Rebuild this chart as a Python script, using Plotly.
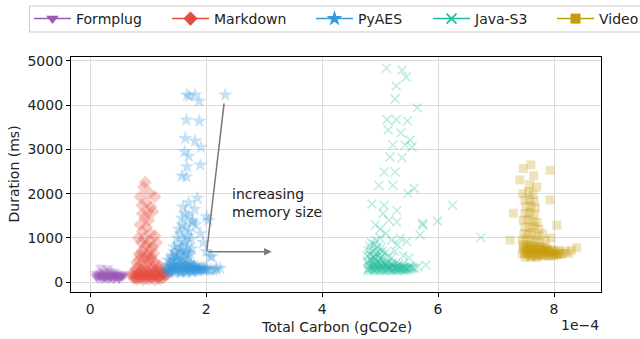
import plotly.graph_objects as go

# x values in units of 1e-4 gCO2e, y in ms
formplug_x = [0.12,0.18,0.25,0.32,0.4,0.47,0.53,0.15,0.22,0.3,0.38,0.45,0.52,0.58,0.1,0.2,0.28,0.35,0.43,0.5,0.56,
              0.14,0.24,0.33,0.41,0.49,0.17,0.27,0.36,0.46,0.54,0.2,0.3,0.4,0.5,0.25,0.35,0.45,0.22,0.32,0.42,0.18,0.3,
              0.1,0.16,0.26,0.34,0.44,0.52,0.6,
              0.13,0.21,0.29,0.37,0.45,0.53,0.11,0.19,0.27,0.35,0.43,0.51,0.16,0.24,0.32,0.4,0.48,0.56,0.23,0.39]
formplug_y = [120,130,110,150,140,125,135,180,170,190,160,175,165,150,200,210,100,90,95,85,110,
              70,80,75,70,80,230,220,240,210,200,60,65,60,70,150,130,120,260,280,250,340,330,
              140,150,160,140,150,130,190,
              160,150,140,160,150,140,110,120,100,110,120,100,180,170,190,180,170,160,90,200]

markdown_x = [0.75,0.8,0.85,0.9,0.95,1.0,1.05,1.1,1.15,1.2,1.25,1.3,
              0.78,0.83,0.88,0.93,0.98,1.03,1.08,1.13,1.18,1.23,1.28,
              0.76,0.81,0.86,0.91,0.96,1.01,1.06,1.11,1.16,1.21,1.26,
              0.8,0.85,0.9,0.95,1.0,1.05,1.1,1.15,1.2,0.72,0.74,1.33,1.36,
              0.77,0.82,0.87,0.92,0.97,1.02,1.07,1.12,1.17,1.22,1.27,
              0.79,0.84,0.89,0.94,0.99,1.04,1.09,1.14,1.19,0.86,0.96,1.06,
              0.85,0.9,0.95,1.0,1.05,1.1,0.88,0.93,0.98,1.03,1.08,0.9,0.97,1.04,0.86,0.94,1.01,1.12,0.83,1.15,
              0.86,0.89,1.12,0.95,1.03,1.0,0.92,1.05,0.97,0.9,1.08]
markdown_y = [150,100,200,120,250,180,140,220,160,120,200,150,
              300,350,280,320,380,300,350,280,300,260,240,
              80,70,90,60,80,70,90,60,80,70,100,
              450,500,420,550,480,520,450,400,380,200,120,180,250,
              220,180,240,200,160,220,200,180,240,200,180,
              130,150,140,160,130,150,140,160,130,600,620,580,
              650,700,800,600,750,650,900,1000,850,950,800,1150,1250,1100,1300,1450,1400,1050,1000,900,
              1930,1740,1930,2260,2010,1590,2150,1700,1800,1550,1600]

pyaes_x = [1.32,1.37,1.42,1.47,1.52,1.57,1.62,1.67,1.72,1.77,1.82,1.87,1.92,1.97,2.02,2.07,2.12,2.17,
           1.35,1.4,1.45,1.5,1.55,1.6,1.65,1.7,1.75,1.8,1.85,1.9,1.95,2.0,
           1.34,1.39,1.44,1.49,1.54,1.59,1.64,1.69,1.74,1.79,1.36,1.46,1.56,1.66,1.76,1.86,
           1.33,1.38,1.43,1.48,1.53,1.58,1.63,1.68,1.73,1.78,1.83,1.88,1.93,1.98,
           1.31,1.36,1.41,1.46,1.51,1.56,1.61,1.66,1.71,1.76,1.81,1.4,1.5,1.6,1.7,1.45,1.55,1.65,
           1.42,1.48,1.54,1.6,1.66,1.72,1.45,1.51,1.57,1.63,1.69,1.75,1.5,1.56,1.62,1.68,1.74,
           1.53,1.59,1.65,1.71,1.77,1.58,1.64,1.7,1.76,1.82,1.6,1.7,1.8,1.85,1.9,1.95,2.0,
           1.58,1.66,1.67,1.9,1.64,1.81,1.91,1.66,1.88,1.67,1.81,1.88,1.71,2.33,1.7,1.63,
           2.01,2.1,2.18,2.04,2.07,2.24]
pyaes_y = [300,280,320,290,310,280,300,290,310,280,300,290,280,270,290,280,270,290,
           400,380,420,390,410,380,400,390,360,350,330,320,330,320,
           500,480,520,490,510,480,460,440,420,380,220,230,220,230,240,250,
           350,340,360,330,350,340,330,350,320,330,310,300,310,300,
           250,260,250,270,260,250,240,260,270,250,260,560,580,540,600,700,720,680,
           600,650,620,700,640,660,800,850,780,900,820,760,1000,1100,950,1050,980,
           1200,1300,1250,1150,1350,1450,1550,1500,1400,1300,1700,1800,1650,1900,1100,900,700,
           2400,2380,2610,2650,3250,3190,3050,3660,3640,4230,4230,4090,4200,4230,2850,2950,
           1480,580,320,1400,580,320]

javas3_x = [4.8,4.85,4.9,4.95,5.0,5.05,5.1,5.15,5.2,5.25,5.3,5.35,5.4,5.45,5.5,5.55,5.6,
            4.82,4.87,4.92,4.97,5.02,5.07,5.12,5.17,5.22,5.27,5.32,5.37,5.42,5.47,5.52,
            4.78,4.84,4.9,4.96,5.02,5.08,5.14,5.2,5.26,5.32,
            4.81,4.86,4.91,4.96,5.01,5.06,5.11,5.16,5.21,5.26,5.31,5.36,5.41,5.46,5.51,5.56,
            4.79,4.84,4.89,4.94,4.99,5.04,5.09,5.14,5.19,5.24,5.29,5.34,5.39,5.44,
            4.8,4.88,4.95,5.02,5.1,4.84,4.91,4.99,
            4.78,4.83,4.88,4.93,4.98,5.03,4.8,4.86,4.92,4.98,5.04,4.82,4.9,4.96,5.02,4.85,4.93,5.0,5.08,5.14,5.2,
            5.0,5.1,5.15,5.05,4.92,5.2,5.3,5.25,5.4,5.5,5.35,5.65,5.79,
            5.11,5.38,5.45,5.28,5.26,5.64,5.12,5.28,5.47,5.14,5.36,5.52,5.22,5.43,5.55,5.17,5.38,5.07,5.26,4.98,5.22,
            5.48,5.59,4.86,5.07,5.29,5.29,5.74,5.99,6.25,6.74,5.73,5.69,5.46]
javas3_y = [300,320,290,310,300,320,290,310,300,320,290,310,300,300,290,310,320,
            380,400,370,390,380,400,370,360,380,350,360,370,350,340,360,
            480,500,520,470,490,450,460,430,420,410,
            340,330,350,340,330,350,340,330,340,320,330,320,330,310,320,330,
            270,260,270,280,260,270,260,280,270,260,270,280,270,260,
            430,450,440,420,400,520,560,540,
            600,620,580,640,600,560,720,700,750,680,700,820,850,800,780,900,950,1000,650,600,550,
            1200,1100,1400,1550,1300,950,850,700,600,550,1000,350,390,
            4830,4790,4630,4430,4140,3940,3670,3670,3640,3440,3370,3210,3100,3100,3050,2830,2810,2490,2490,2190,2190,
            2010,2120,1770,1740,1620,1360,1290,1380,1740,1010,1330,1070,920]

video_x = [7.45,7.5,7.55,7.6,7.65,7.7,7.75,7.8,7.85,7.9,7.95,8.0,8.05,8.1,8.15,
           7.48,7.53,7.58,7.63,7.68,7.73,7.78,7.83,7.88,7.93,7.98,8.03,8.08,
           7.47,7.52,7.57,7.62,7.67,7.72,7.77,7.82,7.87,8.2,8.3,8.39,8.25,
           7.5,7.56,7.62,7.68,7.74,7.8,7.86,7.92,7.98,8.04,8.1,
           7.47,7.54,7.61,7.68,7.75,7.82,7.89,7.96,7.5,7.6,7.7,
           7.45,7.52,7.6,7.68,7.76,7.48,7.55,7.63,7.71,7.5,7.58,7.66,7.74,7.47,7.55,7.63,7.71,
           7.5,7.58,7.66,7.52,7.6,7.68,7.5,7.58,7.66,7.46,7.56,7.64,
           7.41,7.58,7.7,7.47,7.6,7.93,7.24,7.3,8.05,7.93,7.65,7.8,7.85,7.95]
video_y = [650,640,620,600,610,600,620,600,610,590,600,610,620,630,650,
           750,730,740,720,730,710,720,700,710,700,690,700,720,
           850,830,840,820,800,810,790,780,770,700,720,780,650,
           680,670,660,650,660,650,640,660,650,640,660,
           780,770,760,760,750,740,730,740,560,570,560,
           950,980,930,960,900,1100,1080,1120,1050,1250,1230,1270,1200,1400,1420,1380,1350,
           1550,1580,1520,1700,1720,1680,1850,1870,1830,2000,2050,1980,
           2310,2200,2150,2570,2650,2530,955,1560,1290,1860,2400,1100,950,1000]

y_ticks = [0, 1000, 2000, 3000, 4000, 5000]
x_ticks = [0, 2, 4, 6, 8]

names = ["Formplug", "Markdown", "PyAES", "Java-S3", "Video"]
colors = ["#9b59b6", "#e74c3c", "#3498db", "#1abc9c", "#c49b0a"]
symbols = ["triangle-down", "diamond", "star", "x-thin-open", "square"]
xs = [formplug_x, markdown_x, pyaes_x, javas3_x, video_x]
ys = [formplug_y, markdown_y, pyaes_y, javas3_y, video_y]
sizes = [10, 10, 11, 9, 9]

W, H = 640, 339
L, R, T, B = 71, 39, 57, 47
pw, ph = W - L - R, H - T - B
def px(xp):
    return (xp - L) / pw
def py(yp):
    return (H - B - yp) / ph

def marker(s, c, sz, op):
    mk = dict(symbol=s, color=c, size=sz, opacity=op)
    mk["line"] = dict(color=c, width=1.6) if s.startswith("x-thin") else dict(width=0)
    return mk

fig = go.Figure()
for n, c, s, x, y, sz in zip(names, colors, symbols, xs, ys, sizes):
    fig.add_trace(go.Scatter(x=x, y=y, mode="markers", marker=marker(s, c, sz, 0.28),
                             showlegend=False, name=n, hoverinfo="skip"))

legend_left = [29, 167, 311, 428, 552]
for i, (n, c, s, sz) in enumerate(zip(names, colors, symbols, sizes)):
    lg = "legend" if i == 0 else f"legend{i+1}"
    fig.add_trace(go.Scatter(x=[None], y=[None], mode="lines+markers", name=n, legend=lg,
                             line=dict(color=c, width=1.5), marker=marker(s, c, sz + 1, 1)))
    fig.update_layout({lg: dict(x=px(legend_left[i]), xanchor="left", y=py(19), yanchor="middle",
                                bgcolor="rgba(0,0,0,0)", borderwidth=0, itemwidth=37,
                                font=dict(size=14, color="#222"))})

# legend frame
fig.add_shape(type="rect", xref="paper", yref="paper", x0=px(29.5), x1=px(660), y0=py(32), y1=py(6),
              line=dict(color="#cccccc", width=1), fillcolor="rgba(0,0,0,0)", layer="below")

# arrow annotation
fig.add_shape(type="line", x0=2.31, y0=4040, x1=2.01, y1=690, line=dict(color="#777777", width=1.5))
fig.add_annotation(x=3.13, y=690, ax=2.01, ay=690, xref="x", yref="y", axref="x", ayref="y",
                   showarrow=True, arrowhead=2, arrowsize=1, arrowwidth=1.5, arrowcolor="#777777", text="")
fig.add_annotation(x=2.41, y=1790, xref="x", yref="y", text="increasing<br>memory size", showarrow=False,
                   xanchor="left", yanchor="middle", align="left", font=dict(size=14, color="#222"))

# axis titles and offset label
fig.add_annotation(x=0.5, y=py(327), xref="paper", yref="paper", text="Total Carbon (gCO2e)", showarrow=False,
                   xanchor="center", yanchor="middle", font=dict(size=14, color="#222"))
fig.add_annotation(x=px(13), y=0.5, xref="paper", yref="paper", text="Duration (ms)", showarrow=False,
                   textangle=-90, xanchor="center", yanchor="middle", font=dict(size=14, color="#222"))
fig.add_annotation(x=px(601), y=py(325), xref="paper", yref="paper", text="1e\u22124", showarrow=False,
                   xanchor="right", yanchor="middle", font=dict(size=14, color="#222"))

axis_common = dict(showline=True, linecolor="black", linewidth=1.2, mirror=True, ticks="outside", ticklen=4,
                   tickcolor="black", gridcolor="#dadada", gridwidth=1, zeroline=False, automargin=False,
                   tickfont=dict(size=14, color="#222"))
fig.update_xaxes(range=[-0.33, 8.81], tickvals=x_ticks, ticktext=[str(v) for v in x_ticks], **axis_common)
fig.update_yaxes(range=[-219, 5085], tickvals=y_ticks, **axis_common)

fig.update_layout(
    width=W, height=H,
    margin=dict(l=L, r=R, t=T, b=B, autoexpand=False),
    paper_bgcolor="white", plot_bgcolor="white",
    font=dict(family="DejaVu Sans", size=14, color="#222"),
)
fig.write_html("out.html")
